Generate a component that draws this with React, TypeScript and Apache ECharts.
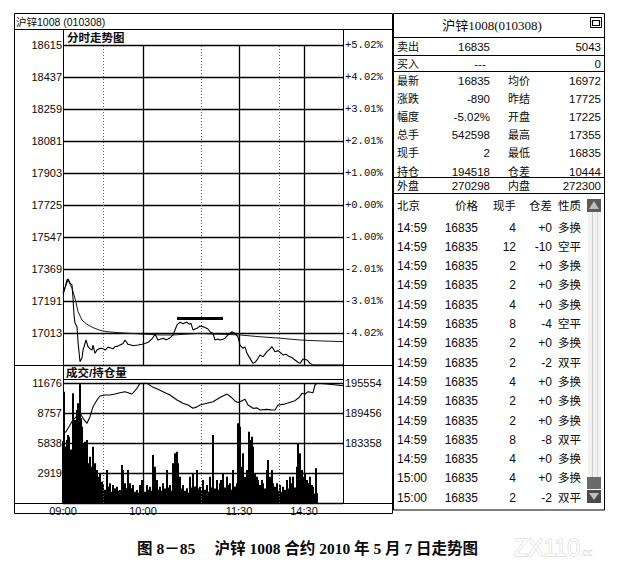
import { useEffect, useRef } from "react";
import * as echarts from "echarts";

const W = 619;
const H = 565;

// ---- axis definitions ----
const PREV_SETTLE = 17725;
const PRICE_STEP = 178;
const PRICE_SPAN = 890; // 5.02% band
const VOL_MAX = 11676;
const VOL_STEP = 2919;
const HOLD_BASE = 171162;
const HOLD_STEP = 6098;
const HOLD_SPAN = 24392;
const SLOT_COUNT = 280;

const timeLabels = ["09:00", "10:00", "11:30", "14:30"];
const timeSlots = [0, 80, 176, 241];
const dottedSlots = [40, 138, 216];

// ---- intraday price (slot, price) ----
const pricePoints: [number, number][] = [
  [0, 17235], [1, 17243], [4, 17308], [5, 17313], [7, 17291], [9, 17280], [10, 17208], [11, 17113],
  [12, 17069], [14, 17048], [15, 16965], [17, 16853], [19, 16874], [20, 16918], [23, 16974], [25, 16937],
  [27, 16925], [29, 16918], [30, 16946], [32, 16900], [34, 16918], [37, 16928], [40, 16925], [42, 16918],
  [45, 16934], [47, 16931], [50, 16925], [52, 16937], [55, 16940], [57, 16946], [60, 16955], [62, 16974],
  [65, 16950], [68, 16946], [70, 16942], [75, 16946], [79, 16950], [82, 16955], [85, 16961], [89, 16980],
  [92, 17006], [95, 16974], [98, 16980], [100, 16984], [103, 16975], [105, 16980], [108, 16990], [110, 17002],
  [112, 17030], [114, 17058], [117, 17073], [120, 17065], [122, 17070], [124, 17073], [126, 17062], [128, 17067],
  [130, 17030], [132, 17035], [134, 17039], [137, 17052], [140, 17048], [142, 17043], [145, 17035], [147, 17020],
  [150, 17011], [152, 16974], [155, 16980], [157, 16974], [160, 16978], [162, 16984], [165, 17002], [169, 17020],
  [172, 17011], [175, 16992], [177, 16946], [180, 16928], [182, 16935], [184, 16900], [187, 16872], [190, 16844],
  [192, 16850], [194, 16863], [197, 16891], [200, 16881], [202, 16895], [204, 16909], [207, 16925], [209, 16937],
  [212, 16909], [215, 16915], [217, 16906], [220, 16891], [223, 16895], [225, 16887], [229, 16875], [232, 16863],
  [235, 16850], [237, 16844], [240, 16868], [244, 16863], [247, 16844], [250, 16835], [280, 16835],
];

// ---- average price (slot, price) ----
const avgPoints: [number, number][] = [
  [0, 17235], [5, 17308], [9, 17262], [12, 17206], [15, 17132], [19, 17085], [24, 17061], [30, 17043],
  [37, 17028], [44, 17020], [55, 17015], [67, 17011], [80, 17007], [97, 17002], [110, 17002], [124, 17007],
  [137, 17011], [150, 17007], [164, 17005], [177, 17002], [197, 16992], [217, 16984], [237, 16974],
  [257, 16969], [280, 16965],
];

// ---- open interest (slot, hold) ----
const holdPoints: [number, number][] = [
  [0, 185100], [3, 185655], [7, 187017], [10, 188033], [15, 189049], [17, 189388], [20, 188372], [24, 187356],
  [27, 188710], [30, 190743], [34, 192098], [37, 192912], [42, 193115], [47, 193115], [52, 193318], [57, 193589],
  [62, 193792], [66, 193500], [69, 193318], [74, 194470], [77, 195486], [84, 195486], [89, 194809], [95, 194267],
  [100, 193792], [107, 193115], [114, 192098], [120, 191421], [125, 191082], [130, 190405], [134, 190700],
  [137, 191082], [144, 191421], [150, 191759], [157, 192600], [164, 193300], [168, 192700], [172, 191900],
  [175, 191600], [177, 191759], [182, 192234], [185, 191082], [190, 190405], [194, 190500], [197, 190066],
  [204, 190202], [208, 190100], [212, 190066], [215, 191082], [220, 191200], [224, 191421], [228, 191700],
  [232, 191963], [236, 192600], [239, 193454], [242, 193300], [245, 193792], [250, 193589], [252, 195147],
  [254, 195500], [264, 195351], [280, 195000],
];

// ---- volume (slot, lots) ----
const volumeBars: [number, number][] = [
  [0, 6000], [1, 10830], [2, 5500], [4, 6130], [5, 6616], [6, 6454], [8, 5200], [10, 10670], [11, 7100],
  [12, 8076], [13, 8076], [14, 9049], [15, 9698], [16, 6300], [17, 11644], [18, 8270], [19, 7427], [20, 5806],
  [21, 4800], [22, 5968], [23, 4200], [24, 6130], [25, 3860], [26, 3000], [27, 4508], [28, 2600], [29, 3535],
  [30, 5481], [31, 2900], [32, 3860], [33, 2400], [34, 3211], [35, 2562], [36, 1900], [37, 2887], [38, 1500],
  [39, 2076], [40, 1751], [42, 1300], [44, 3211], [45, 1589], [46, 1200], [47, 1914], [49, 1100], [50, 1751],
  [52, 1427], [54, 1589], [55, 1200], [57, 1265], [59, 3697], [60, 3211], [61, 1500], [62, 1914], [64, 1427],
  [65, 3211], [67, 1914], [68, 1200], [69, 1427], [70, 1751], [72, 1100], [74, 1265], [75, 1000], [77, 1751],
  [79, 2238], [80, 1427], [82, 1100], [84, 1751], [85, 1300], [87, 1589], [89, 1200], [90, 4670], [92, 3535],
  [93, 1800], [94, 2238], [96, 1300], [97, 1589], [99, 1200], [100, 1914], [102, 1400], [104, 3211], [105, 1500],
  [107, 1751], [109, 1200], [110, 3860], [111, 2500], [112, 4833], [113, 2200], [114, 4995], [115, 3860],
  [116, 1800], [117, 2562], [119, 1400], [120, 1751], [122, 1200], [124, 1427], [125, 1000], [127, 2562],
  [129, 1500], [130, 2887], [132, 1600], [134, 3211], [135, 1400], [137, 1589], [139, 1200], [140, 2238],
  [142, 1300], [144, 1751], [145, 1100], [147, 2562], [149, 1500], [150, 6616], [152, 1400], [154, 2238],
  [155, 1300], [157, 1914], [158, 2238], [160, 2887], [162, 1500], [164, 2562], [165, 1751], [167, 1914],
  [169, 1300], [170, 3211], [172, 1600], [174, 1914], [175, 7751], [176, 2500], [177, 7427], [178, 2000],
  [179, 3535], [180, 4833], [181, 2000], [182, 2562], [184, 3211], [185, 1800], [186, 6941], [187, 2600],
  [188, 6130], [189, 6454], [190, 5481], [191, 2200], [192, 2887], [194, 2562], [195, 2238], [196, 1300],
  [197, 1751], [199, 2238], [200, 1914], [202, 1400], [204, 3211], [205, 4184], [206, 1700], [207, 2562],
  [209, 3211], [210, 1914], [212, 1589], [214, 1914], [215, 1200], [217, 1751], [219, 1100], [220, 1589],
  [222, 1300], [224, 2238], [225, 1400], [227, 2562], [229, 1914], [230, 2562], [232, 1500], [234, 3535],
  [235, 5806], [236, 2500], [237, 4833], [238, 2000], [239, 3211], [240, 2562], [242, 2887], [243, 1500],
  [244, 2238], [245, 1914], [247, 2562], [248, 1300], [249, 1751], [250, 1589], [251, 900], [253, 3373],
  [254, 941],
];

// hand-drawn resistance mark
const resistanceSlots = [114, 160];
const resistancePrice = 17093;

// ---- quote panel ----
const panelTitle = "沪锌1008(010308)";
const leftTitle = "沪锌1008 (010308)";
const sellRow = ["卖出", "16835", "5043"];
const buyRow = ["买入", "---", "0"];
const quoteRows = [
  ["最新", "16835", "均价", "16972"],
  ["涨跌", "-890", "昨结", "17725"],
  ["幅度", "-5.02%", "开盘", "17225"],
  ["总手", "542598", "最高", "17355"],
  ["现手", "2", "最低", "16835"],
  ["持仓", "194518", "仓差", "10444"],
];
const outerRow = ["外盘", "270298", "内盘", "272300"];
const tradeHeader = ["北京", "价格", "现手", "仓差", "性质"];
const trades = [
  ["14:59", "16835", "4", "+0", "多换"],
  ["14:59", "16835", "12", "-10", "空平"],
  ["14:59", "16835", "2", "+0", "多换"],
  ["14:59", "16835", "2", "+0", "多换"],
  ["14:59", "16835", "4", "+0", "多换"],
  ["14:59", "16835", "8", "-4", "空平"],
  ["14:59", "16835", "2", "+0", "多换"],
  ["14:59", "16835", "2", "-2", "双平"],
  ["14:59", "16835", "4", "+0", "多换"],
  ["14:59", "16835", "2", "+0", "多换"],
  ["14:59", "16835", "2", "+0", "多换"],
  ["14:59", "16835", "8", "-8", "双平"],
  ["14:59", "16835", "4", "+0", "多换"],
  ["15:00", "16835", "4", "+0", "多换"],
  ["15:00", "16835", "2", "-2", "双平"],
];
const chartTitle = "分时走势图";
const volTitle = "成交/持仓量";
const caption = "图 8－85     沪锌 1008 合约 2010 年 5 月 7 日走势图";

// ---- helpers ----
const SANS = "'Liberation Sans', 'Noto Sans CJK SC', sans-serif";
const SERIF = "'Liberation Serif', 'Noto Sans CJK SC', serif";
const INK = "#000";

function T(x: number, y: number, text: string, size: number, align = "left", extra: any = {}) {
  return {
    type: "text",
    x,
    y,
    z: 30,
    silent: true,
    style: {
      text,
      fill: "#0a0a0a",
      font: `${size}px ${SANS}`,
      textAlign: align,
      align,
      textVerticalAlign: "middle",
      verticalAlign: "middle",
      ...extra,
    },
  };
}

function L(x1: number, y1: number, x2: number, y2: number, stroke = INK, lineWidth = 1) {
  return {
    type: "line",
    z: 25,
    silent: true,
    shape: { x1, y1, x2, y2 },
    style: { stroke, lineWidth },
  };
}

function R(x: number, y: number, w: number, h: number, style: any) {
  return { type: "rect", z: 24, silent: true, shape: { x, y, width: w, height: h }, style };
}

function buildGraphics() {
  const g: any[] = [];
  // left panel frame
  g.push(R(14.5, 13.5, 378, 500, { fill: "none", stroke: INK, lineWidth: 1 }));
  g.push(L(14.5, 29.5, 392.5, 29.5));
  g.push(L(63.5, 29.5, 63.5, 45));
  g.push(L(343.5, 29.5, 343.5, 45));
  g.push(L(14.5, 365.5, 392.5, 365.5));
  g.push(L(63.5, 365.5, 63.5, 383));
  g.push(L(343.5, 365.5, 343.5, 383));
  g.push(L(63.5, 379.5, 343.5, 379.5));
  g.push(L(14.5, 503.5, 392.5, 503.5));
  g.push(T(16, 21.5, leftTitle, 10.5));
  g.push(T(67, 37.5, chartTitle, 11.5, "left", { font: `bold 11.5px ${SANS}` }));
  g.push(T(66, 372.5, volTitle, 11.5, "left", { font: `bold 11.5px ${SANS}` }));

  // right panel frame
  g.push(R(393.5, 13.5, 211, 496.5, { fill: "none", stroke: INK, lineWidth: 1 }));
  [37.5, 55.5, 71.5, 177.5, 193.5].forEach((y) => g.push(L(393.5, y, 604.5, y)));
  g.push(T(492, 25.5, panelTitle, 13, "center", { font: `13px ${SERIF}` }));
  // window icon
  g.push(R(590.5, 17.5, 11, 10, { fill: "#fff", stroke: INK, lineWidth: 1 }));
  g.push(R(592.5, 20.5, 7, 5, { fill: "none", stroke: INK, lineWidth: 1.2 }));

  const c1 = 397, c2 = 490, c3 = 508, c4 = 601;
  g.push(T(c1, 46.5, sellRow[0], 11));
  g.push(T(c2, 46.5, sellRow[1], 11.5, "right"));
  g.push(T(c4, 46.5, sellRow[2], 11.5, "right"));
  g.push(T(c1, 63.5, buyRow[0], 11));
  g.push(T(480, 63.5, buyRow[1], 11.5, "center"));
  g.push(T(c4, 63.5, buyRow[2], 11.5, "right"));
  quoteRows.forEach((r, i) => {
    const y = 80.5 + i * 18.2;
    g.push(T(c1, y, r[0], 11));
    g.push(T(c2, y, r[1], 11.5, "right"));
    g.push(T(c3, y, r[2], 11));
    g.push(T(c4, y, r[3], 11.5, "right"));
  });
  g.push(T(c1, 185.5, outerRow[0], 11));
  g.push(T(c2, 185.5, outerRow[1], 11.5, "right"));
  g.push(T(c3, 185.5, outerRow[2], 11));
  g.push(T(c4, 185.5, outerRow[3], 11.5, "right"));

  // trade list
  const tx = [397, 478, 516, 552, 558];
  const ta = ["left", "right", "right", "right", "left"];
  tradeHeader.forEach((h, j) => g.push(T(tx[j], 205.5, h, 11.5, ta[j])));
  trades.forEach((r, i) => {
    const y = 227.5 + i * 19.3;
    r.forEach((v, j) => g.push(T(tx[j], y, v, j === 4 ? 11.5 : 12, ta[j])));
  });

  // scrollbar
  g.push(R(588, 212, 13, 265, { fill: "#f1f1f1", stroke: "none" }));
  g.push(L(592.5, 212, 592.5, 477, "#cfcfcf", 1));
  g.push(L(597.5, 212, 597.5, 477, "#dadada", 1));
  g.push(R(587, 199, 14, 13, { fill: "#5a5a5a", stroke: "none" }));
  g.push({ type: "polygon", z: 26, silent: true, shape: { points: [[594, 201], [589, 209], [599, 209]] }, style: { fill: "#bdbdbd" } });
  g.push(R(587, 477, 14, 12, { fill: "#6a6a6a", stroke: "none" }));
  g.push(R(587, 490, 14, 13, { fill: "#4a4a4a", stroke: "none" }));
  g.push({ type: "polygon", z: 26, silent: true, shape: { points: [[594, 500], [589, 493], [599, 493]] }, style: { fill: "#bdbdbd" } });

  // caption + watermark
  g.push(T(137, 548.5, caption, 15.5, "left", { font: `bold 15.5px ${SERIF}` }));
  g.push(T(514, 548, "ZX110", 23, "left", { font: `23px ${SANS}`, fill: "#fff", stroke: "#cdcdcd", lineWidth: 1 }));
  g.push(T(580, 552, ".cc", 10, "left", { fill: "#d2d2d2" }));
  return g;
}

// vertical grid lines (half-slot offset keeps 1px lines crisp)
function vLines(solid: number[], dotted: number[]) {
  return [
    ...solid.map((x) => ({ xAxis: x + 0.5, lineStyle: { color: "#000", width: 1.3, type: "solid" } })),
    ...dotted.map((x) => ({ xAxis: x + 0.5, lineStyle: { color: "#5e5e5e", width: 1, type: [1, 2] } })),
  ];
}

function buildOption() {
  const pct = (v: number) => {
    const p = (v / PREV_SETTLE) * 100;
    return (v >= 0 ? "+" : "") + p.toFixed(2) + "%";
  };
  const hiddenAxis = {
    type: "value",
    min: 0,
    max: SLOT_COUNT,
    axisLine: { show: false },
    axisTick: { show: false },
    axisLabel: { show: false },
    splitLine: { show: false },
  };
  return {
    animation: false,
    backgroundColor: "#fff",
    grid: [
      { left: 63, top: 45, width: 280, height: 320, outerBoundsMode: "none", containLabel: false },
      { left: 63, top: 383, width: 280, height: 120, outerBoundsMode: "none", containLabel: false },
    ],
    xAxis: [
      { ...hiddenAxis, gridIndex: 0 },
      {
        ...hiddenAxis,
        gridIndex: 1,
        axisLine: { show: true, lineStyle: { color: INK, width: 1 } },
        axisLabel: {
          show: true,
          customValues: timeSlots,
          margin: 2,
          color: "#0a0a0a",
          fontSize: 11,
          fontFamily: SANS,
          formatter: (v: number) => timeLabels[timeSlots.indexOf(v)] ?? "",
        },
      },
    ],
    yAxis: [
      {
        type: "value",
        gridIndex: 0,
        min: -PRICE_SPAN,
        max: PRICE_SPAN,
        interval: PRICE_STEP,
        axisLine: { show: true, lineStyle: { color: INK, width: 1 } },
        axisTick: { show: false },
        axisLabel: {
          margin: 1,
          color: "#0a0a0a",
          fontSize: 11,
          fontFamily: SANS,
          formatter: (v: number) => (v <= -PRICE_SPAN ? "" : String(v + PREV_SETTLE)),
        },
        splitLine: { show: true, lineStyle: { color: "#000", width: 1.3 } },
      },
      {
        type: "value",
        gridIndex: 0,
        position: "right",
        min: -PRICE_SPAN,
        max: PRICE_SPAN,
        interval: PRICE_STEP,
        axisLine: { show: true, lineStyle: { color: INK, width: 1 } },
        axisTick: { show: false },
        axisLabel: {
          margin: 2,
          color: "#0a0a0a",
          fontSize: 10.5,
          fontFamily: "'Liberation Mono', 'DejaVu Sans Mono', monospace",
          formatter: (v: number) => (v <= -PRICE_SPAN ? "" : pct(v)),
        },
        splitLine: { show: false },
      },
      {
        type: "value",
        gridIndex: 1,
        min: 0,
        max: VOL_MAX,
        interval: VOL_STEP,
        axisLine: { show: true, lineStyle: { color: INK, width: 1 } },
        axisTick: { show: false },
        axisLabel: {
          margin: 1,
          color: "#0a0a0a",
          fontSize: 11,
          fontFamily: SANS,
          formatter: (v: number) => (v <= 0 ? "" : String(v)),
        },
        splitLine: { show: true, lineStyle: { color: "#000", width: 1.3 } },
      },
      {
        type: "value",
        gridIndex: 1,
        position: "right",
        min: 0,
        max: HOLD_SPAN,
        interval: HOLD_STEP,
        axisLine: { show: true, lineStyle: { color: INK, width: 1 } },
        axisTick: { show: false },
        axisLabel: {
          margin: 2,
          color: "#0a0a0a",
          fontSize: 11,
          fontFamily: SANS,
          formatter: (v: number) => (v < 2 * HOLD_STEP ? "" : String(v + HOLD_BASE)),
        },
        splitLine: { show: false },
      },
    ],
    series: [
      {
        name: "grid-price",
        type: "line",
        xAxisIndex: 0,
        yAxisIndex: 0,
        z: 1,
        silent: true,
        data: [[0, -PRICE_SPAN]],
        showSymbol: false,
        lineStyle: { opacity: 0 },
        markLine: {
          silent: true,
          symbol: ["none", "none"],
          label: { show: false },
          animation: false,
          data: vLines(timeSlots.slice(1), dottedSlots),
        },
      },
      {
        name: "grid-volume",
        type: "line",
        xAxisIndex: 1,
        yAxisIndex: 2,
        z: 1,
        silent: true,
        data: [[0, 0]],
        showSymbol: false,
        lineStyle: { opacity: 0 },
        markLine: {
          silent: true,
          symbol: ["none", "none"],
          label: { show: false },
          animation: false,
          data: vLines(timeSlots.slice(1), dottedSlots),
        },
      },
      {
        name: "均价",
        type: "line",
        xAxisIndex: 0,
        yAxisIndex: 0,
        z: 3,
        silent: true,
        showSymbol: false,
        data: avgPoints.map(([t, p]) => [t, p - PREV_SETTLE]),
        lineStyle: { color: "#1a1a1a", width: 1 },
      },
      {
        name: "价格",
        type: "line",
        xAxisIndex: 0,
        yAxisIndex: 0,
        z: 4,
        silent: true,
        showSymbol: false,
        data: pricePoints.map(([t, p]) => [t, p - PREV_SETTLE]),
        lineStyle: { color: "#000", width: 1.1 },
        markLine: {
          silent: true,
          symbol: ["none", "none"],
          label: { show: false },
          animation: false,
          lineStyle: { color: "#000", width: 3, type: "solid" },
          data: [
            [
              { coord: [resistanceSlots[0], resistancePrice - PREV_SETTLE] },
              { coord: [resistanceSlots[1], resistancePrice - PREV_SETTLE] },
            ],
          ],
        },
      },
      {
        name: "成交",
        type: "bar",
        xAxisIndex: 1,
        yAxisIndex: 2,
        z: 3,
        silent: true,
        barWidth: 2,
        data: volumeBars,
        itemStyle: { color: "#000" },
      },
      {
        name: "持仓",
        type: "line",
        xAxisIndex: 1,
        yAxisIndex: 3,
        z: 4,
        silent: true,
        showSymbol: false,
        data: holdPoints.map(([t, h]) => [t, h - HOLD_BASE]),
        lineStyle: { color: "#000", width: 1.1 },
      },
    ],
    graphic: { elements: buildGraphics() },
  };
}

export default function App() {
  const ref = useRef<HTMLDivElement>(null);
  useEffect(() => {
    document.body.style.margin = "0";
    const chart = echarts.init(ref.current as HTMLDivElement, null, { renderer: "svg", width: W, height: H });
    chart.setOption(buildOption() as any);
    return () => chart.dispose();
  }, []);
  return <div ref={ref} style={{ width: W, height: H, background: "#fff" }} />;
}
